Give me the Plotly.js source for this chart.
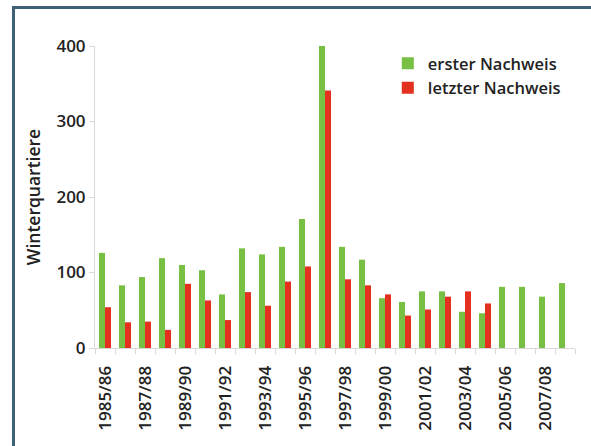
<!DOCTYPE html>
<html>
<head>
<meta charset="utf-8">
<script src="https://cdn.plot.ly/plotly-3.0.1.min.js"></script>
<style>
  html, body { margin: 0; padding: 0; background: #fff; }
  #frame { position: absolute; left: 12px; top: 6px; width: 600px; height: 460px;
           border-left: 3px solid #3e6177; border-top: 3px solid #3e6177; }
  #chart { position: absolute; left: 0; top: 0; width: 591px; height: 446px; }
</style>
</head>
<body>
<div id="frame"></div>
<div id="chart"></div>
<script>
const seasons = ["1985/86","1986/87","1987/88","1988/89","1989/90","1990/91","1991/92","1992/93",
  "1993/94","1994/95","1995/96","1996/97","1997/98","1998/99","1999/00","2000/01","2001/02",
  "2002/03","2003/04","2004/05","2005/06","2006/07","2007/08","2008/09"];
const ersterNachweis = [126,83,94,119,110,103,71,132,124,134,171,400,134,117,66,61,75,75,48,46,81,81,68,86];
const letzterNachweis = [54,34,35,24,85,63,37,74,56,88,108,341,91,83,71,43,51,68,75,59,null,null,null,null];
const tickLabels = ["1985/86","1987/88","1989/90","1991/92","1993/94","1995/96","1997/98","1999/00",
  "2001/02","2003/04","2005/06","2007/08"];

const idx = seasons.map((_, i) => i);
const tickIdx = tickLabels.map(t => seasons.indexOf(t));
const font = "Open Sans, Noto Sans, sans-serif";

const traces = [
  { type: "bar", name: "erster Nachweis", x: idx, y: ersterNachweis,
    marker: { color: "#78c043" }, hovertext: seasons },
  { type: "bar", name: "letzter Nachweis", x: idx, y: letzterNachweis,
    marker: { color: "#e3301f" }, hovertext: seasons }
];

const layout = {
  width: 591, height: 446,
  margin: { l: 95, r: 16, t: 46, b: 98 },
  paper_bgcolor: "rgba(0,0,0,0)", plot_bgcolor: "rgba(0,0,0,0)",
  barmode: "group", bargap: 0.4, bargroupgap: 0,
  font: { family: font, size: 16, color: "#222", weight: 600 },
  showlegend: true,
  legend: { x: 0.61, y: 1.0, xanchor: "left", yanchor: "top",
            bgcolor: "rgba(0,0,0,0)", font: { size: 16.5, color: "#222", weight: 600 },
            tracegroupgap: 6, itemwidth: 30 },
  xaxis: {
    range: [-0.5, 23.5], tickmode: "array", tickvals: tickIdx, ticktext: tickLabels,
    tickangle: -90, showgrid: false, zeroline: false,
    showline: true, linecolor: "#d8d8d8", linewidth: 1,
    ticks: "", ticklabelstandoff: 10, tickfont: { size: 17, color: "#222", weight: 600 },
    minor: { dtick: 1, tick0: 0.5, ticks: "outside", ticklen: 5, tickcolor: "#d8d8d8", showgrid: false }
  },
  yaxis: {
    range: [0, 400], tickvals: [0, 100, 200, 300, 400], showgrid: false, zeroline: false,
    showline: true, linecolor: "#d8d8d8", linewidth: 1,
    ticks: "outside", ticklen: 5, tickcolor: "#d8d8d8",
    tickfont: { size: 17, color: "#222", weight: 600 },
    title: { text: "Winterquartiere", font: { size: 17.5, color: "#222", weight: 600 }, standoff: 11 }
  }
};

Plotly.newPlot("chart", traces, layout, { displayModeBar: false, staticPlot: true });
</script>
</body>
</html>
